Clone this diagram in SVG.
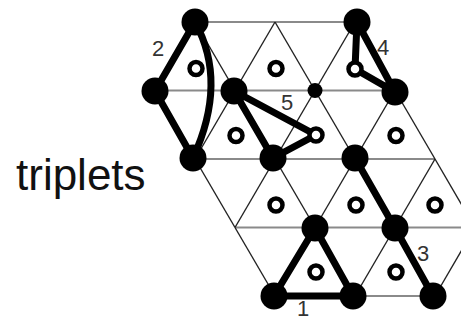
<svg xmlns="http://www.w3.org/2000/svg" width="461" height="321" viewBox="0 0 461 321">
  <style>
    .row { stroke: #8a8a8a; stroke-width: 2.2; fill: none; }
    .diag { stroke: #222; stroke-width: 1.4; fill: none; }
    .bond { stroke: #000; stroke-width: 7; fill: none; stroke-linecap: round; stroke-linejoin: round; }
    .node { fill: #000; }
    .hole { fill: #fff; stroke: #000; stroke-width: 4.5; }
    .num { font-family: "Liberation Sans", Arial, sans-serif; font-size: 22px; fill: #333; }
    .title { font-family: "Liberation Sans", Arial, sans-serif; font-size: 44px; fill: #111; }
  </style>

  <!-- triangular lattice -->
  <g id="lattice">
    <g class="row">
      <line x1="195" y1="22" x2="355" y2="22"/>
      <line x1="155" y1="90.5" x2="395" y2="90.5"/>
      <line x1="195" y1="159" x2="435" y2="159"/>
      <line x1="235" y1="227.5" x2="461" y2="227.5"/>
      <line x1="275" y1="296" x2="435" y2="296"/>
    </g>
    <g class="diag">
      <!-- band 0 -->
      <line x1="195" y1="22" x2="155" y2="90.5"/>
      <line x1="195" y1="22" x2="235" y2="90.5"/>
      <line x1="275" y1="22" x2="235" y2="90.5"/>
      <line x1="275" y1="22" x2="315" y2="90.5"/>
      <line x1="355" y1="22" x2="315" y2="90.5"/>
      <line x1="355" y1="22" x2="395" y2="90.5"/>
      <!-- band 1 -->
      <line x1="155" y1="90.5" x2="195" y2="159"/>
      <line x1="235" y1="90.5" x2="195" y2="159"/>
      <line x1="235" y1="90.5" x2="275" y2="159"/>
      <line x1="315" y1="90.5" x2="275" y2="159"/>
      <line x1="315" y1="90.5" x2="355" y2="159"/>
      <line x1="395" y1="90.5" x2="355" y2="159"/>
      <line x1="395" y1="90.5" x2="435" y2="159"/>
      <!-- band 2 -->
      <line x1="195" y1="159" x2="235" y2="227.5"/>
      <line x1="275" y1="159" x2="235" y2="227.5"/>
      <line x1="275" y1="159" x2="315" y2="227.5"/>
      <line x1="355" y1="159" x2="315" y2="227.5"/>
      <line x1="355" y1="159" x2="395" y2="227.5"/>
      <line x1="435" y1="159" x2="395" y2="227.5"/>
      <line x1="435" y1="159" x2="475" y2="227.5"/>
      <!-- band 3 -->
      <line x1="235" y1="227.5" x2="275" y2="296"/>
      <line x1="315" y1="227.5" x2="275" y2="296"/>
      <line x1="315" y1="227.5" x2="355" y2="296"/>
      <line x1="395" y1="227.5" x2="355" y2="296"/>
      <line x1="395" y1="227.5" x2="435" y2="296"/>
      <line x1="475" y1="227.5" x2="435" y2="296"/>
    </g>
  </g>

  <!-- triplet bonds -->
  <g id="connectors" class="bond">
    <!-- triplet 1 -->
    <path d="M274,296 L315,228 L353,296 Z"/>
    <!-- triplet 2 -->
    <path d="M195,22 L155,91 L193,158"/>
    <path d="M195,22 Q228,82 193,158"/>
    <!-- triplet 3 -->
    <path d="M355,158 L395,228 L433,296"/>
    <!-- triplet 4 -->
    <path d="M357,22 L355,69 L395,92 Z"/>
    <!-- triplet 5 -->
    <path d="M234,91 L316,135 L273,158 Z"/>
  </g>

  <!-- empty sites -->
  <g id="holes">
    <circle class="hole" cx="196" cy="68.5" r="6.5"/>
    <circle class="hole" cx="276" cy="68.5" r="6.5"/>
    <circle class="hole" cx="355" cy="69" r="6.5"/>
    <circle class="hole" cx="236" cy="135.5" r="6.5"/>
    <circle class="hole" cx="316" cy="135" r="6.5"/>
    <circle class="hole" cx="396" cy="135.5" r="6.5"/>
    <circle class="hole" cx="276" cy="205" r="6.5"/>
    <circle class="hole" cx="356" cy="205" r="6.5"/>
    <circle class="hole" cx="435" cy="205" r="6.5"/>
    <circle class="hole" cx="316" cy="272" r="6.5"/>
    <circle class="hole" cx="396" cy="272" r="6.5"/>
  </g>

  <!-- occupied sites -->
  <g id="sites">
    <circle class="node" cx="195" cy="22" r="13.5"/>
    <circle class="node" cx="357" cy="22" r="13.5"/>
    <circle class="node" cx="155" cy="91" r="13.5"/>
    <circle class="node" cx="234" cy="91" r="13.5"/>
    <circle class="node" cx="315" cy="90.5" r="7.5"/>
    <circle class="node" cx="395" cy="92" r="13.5"/>
    <circle class="node" cx="193" cy="158" r="13.5"/>
    <circle class="node" cx="273" cy="158" r="13.5"/>
    <circle class="node" cx="355" cy="158" r="13.5"/>
    <circle class="node" cx="315" cy="228" r="13.5"/>
    <circle class="node" cx="395" cy="228" r="13.5"/>
    <circle class="node" cx="274" cy="296" r="13.5"/>
    <circle class="node" cx="353" cy="296" r="13.5"/>
    <circle class="node" cx="433" cy="296" r="13.5"/>
  </g>

  <!-- labels -->
  <g id="labels">
    <text class="num" x="152" y="56">2</text>
    <text class="num" x="377" y="55">4</text>
    <text class="num" x="281" y="110">5</text>
    <text class="num" x="417" y="261">3</text>
    <text class="num" x="297" y="316" font-size="20">1</text>
    <text class="title" x="16" y="190">triplets</text>
  </g>
</svg>
